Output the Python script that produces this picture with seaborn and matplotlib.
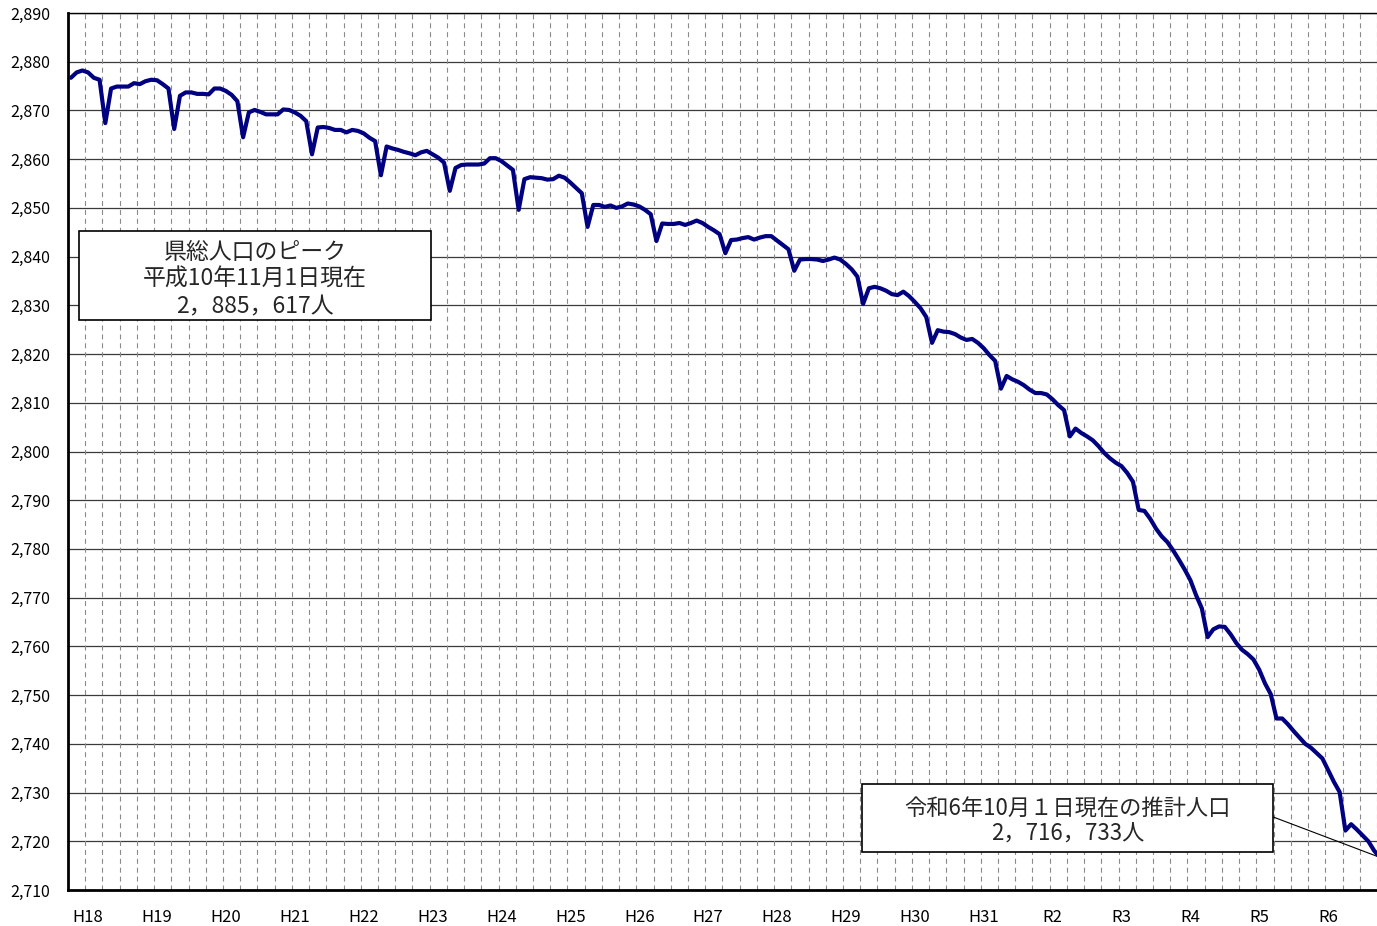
import matplotlib
matplotlib.use("Agg")
import matplotlib.pyplot as plt
from matplotlib.patches import Rectangle
import seaborn as sns
import pandas as pd
import numpy as np

# Monthly estimated population (thousands), Oct 2005 (H17.10) .. Oct 2024 (R6.10)
population = [
    2876.7, 2877.8, 2878.2, 2877.8, 2876.7, 2876.3, 2867.4, 2874.5, 2874.9, 2874.9, 2874.9, 2875.6,
    2875.4, 2876.0, 2876.3, 2876.2, 2875.4, 2874.5, 2866.2, 2873.0, 2873.7, 2873.7, 2873.4, 2873.4,
    2873.3, 2874.5, 2874.5, 2874.0, 2873.2, 2871.9, 2864.5, 2869.6, 2870.1, 2869.7, 2869.2, 2869.2,
    2869.2, 2870.2, 2870.1, 2869.6, 2868.9, 2867.8, 2861.0, 2866.5, 2866.6, 2866.4, 2866.0, 2866.0,
    2865.5, 2866.0, 2865.8, 2865.3, 2864.4, 2863.7, 2856.7, 2862.6, 2862.2, 2861.9, 2861.5, 2861.2,
    2860.8, 2861.4, 2861.7, 2861.0, 2860.3, 2859.3, 2853.5, 2858.2, 2858.8, 2858.9, 2858.9, 2858.9,
    2859.1, 2860.2, 2860.2, 2859.6, 2858.7, 2857.8, 2849.6, 2855.9, 2856.3, 2856.2, 2856.1, 2855.8,
    2855.9, 2856.6, 2856.2, 2855.2, 2854.1, 2853.0, 2846.1, 2850.6, 2850.6, 2850.2, 2850.5, 2850.0,
    2850.3, 2850.9, 2850.7, 2850.3, 2849.6, 2848.7, 2843.2, 2846.8, 2846.7, 2846.7, 2846.9, 2846.5,
    2846.9, 2847.4, 2846.9, 2846.1, 2845.4, 2844.6, 2840.7, 2843.4, 2843.5, 2843.8, 2844.0, 2843.5,
    2843.9, 2844.2, 2844.2, 2843.3, 2842.4, 2841.5, 2837.1, 2839.4, 2839.5, 2839.5, 2839.4, 2839.1,
    2839.4, 2839.8, 2839.4, 2838.5, 2837.4, 2835.9, 2830.3, 2833.5, 2833.8, 2833.5, 2833.0, 2832.3,
    2832.1, 2832.8, 2831.9, 2830.7, 2829.4, 2827.6, 2822.3, 2824.9, 2824.6, 2824.5, 2824.1, 2823.4,
    2822.9, 2823.1, 2822.3, 2821.2, 2819.8, 2818.6, 2812.9, 2815.5, 2814.8, 2814.3, 2813.6, 2812.7,
    2812.0, 2812.0, 2811.7, 2810.7, 2809.5, 2808.5, 2803.1, 2804.7, 2803.8, 2803.1, 2802.3, 2801.1,
    2799.7, 2798.6, 2797.7, 2797.0, 2795.6, 2793.8, 2788.0, 2787.8, 2786.2, 2784.2, 2782.6, 2781.4,
    2779.7, 2777.8, 2775.8, 2773.6, 2770.5, 2767.8, 2761.9, 2763.5, 2764.1, 2764.0, 2762.5, 2760.7,
    2759.3, 2758.4, 2757.3, 2755.2, 2752.4, 2750.2, 2745.2, 2745.2, 2744.0, 2742.6, 2741.3, 2740.0,
    2739.2, 2738.1, 2737.0, 2734.6, 2732.2, 2730.1, 2722.2, 2723.5, 2722.4, 2721.2, 2720.0, 2718.1,
    2716.7,
]
year_labels = ["H18", "H19", "H20", "H21", "H22", "H23", "H24", "H25", "H26", "H27",
               "H28", "H29", "H30", "H31", "R2", "R3", "R4", "R5", "R6"]
y_ticks = list(range(2710, 2891, 10))

peak_text = "県総人口のピーク\n平成10年11月1日現在\n2，885，617人"
latest_text = "令和6年10月１日現在の推計人口\n2，716，733人"

sns.set_style("white")
plt.rcParams["font.family"] = ["Noto Sans CJK JP", "DejaVu Sans"]

df = pd.DataFrame({"month": np.arange(len(population)), "pop": population})

W, H = 1377, 926
fig = plt.figure(figsize=(W / 100, H / 100), dpi=100)
slot = 5.741
left_px, top_px, bottom_px = 68, 13, 890
ax_w_px = 229 * slot
ax = fig.add_axes([left_px / W, (H - bottom_px) / H, ax_w_px / W, (bottom_px - top_px) / H])

sns.lineplot(data=df, x="month", y="pop", ax=ax, color="#000080", linewidth=3.0,
             zorder=5, solid_joinstyle="round")

ax.set_xlim(-0.5, 228.5)
ax.set_ylim(2710, 2890)

# horizontal gridlines
for v in y_ticks[1:]:
    ax.axhline(v, color="#3a3a3a", lw=0.9, zorder=1)
# vertical dashed quarter lines
for xq in np.arange(2.5, 228, 3):
    ax.axvline(xq, color="#8a8a8a", lw=0.8, ls=(0, (4.5, 3.5)), zorder=1)

ax.set_yticks(y_ticks)
ax.set_yticklabels([f"{v:,}" for v in y_ticks], fontsize=11.5, color="black")
ax.set_xticks([3 + 12 * k for k in range(len(year_labels))])
ax.set_xticklabels(year_labels, fontsize=12, color="black")
ax.tick_params(axis="y", length=0, pad=13)
ax.tick_params(axis="x", length=0, pad=14)
ax.set_xlabel("")
ax.set_ylabel("")

for s in ["left", "bottom"]:
    ax.spines[s].set_linewidth(2.0)
    ax.spines[s].set_color("black")
ax.spines["top"].set_linewidth(1.0)
ax.spines["top"].set_color("black")
ax.spines["right"].set_visible(False)

# annotation boxes
ax.add_patch(Rectangle((1.4, 2827.0), 61.4, 18.2, facecolor="white", edgecolor="black",
                       lw=1.2, zorder=6))
ax.text(32.1, 2835.3, peak_text, ha="center", va="center", fontsize=16.5,
        linespacing=1.25, zorder=7)

ax.add_patch(Rectangle((137.8, 2717.8), 71.6, 13.9, facecolor="white", edgecolor="black",
                       lw=1.2, zorder=6))
ax.text(173.6, 2724.0, latest_text, ha="center", va="center", fontsize=16,
        linespacing=1.08, zorder=7)
ax.plot([209.4, 228], [2725.0, population[-1]], color="black", lw=0.8, zorder=4)

fig.savefig("out.png", dpi=100)
